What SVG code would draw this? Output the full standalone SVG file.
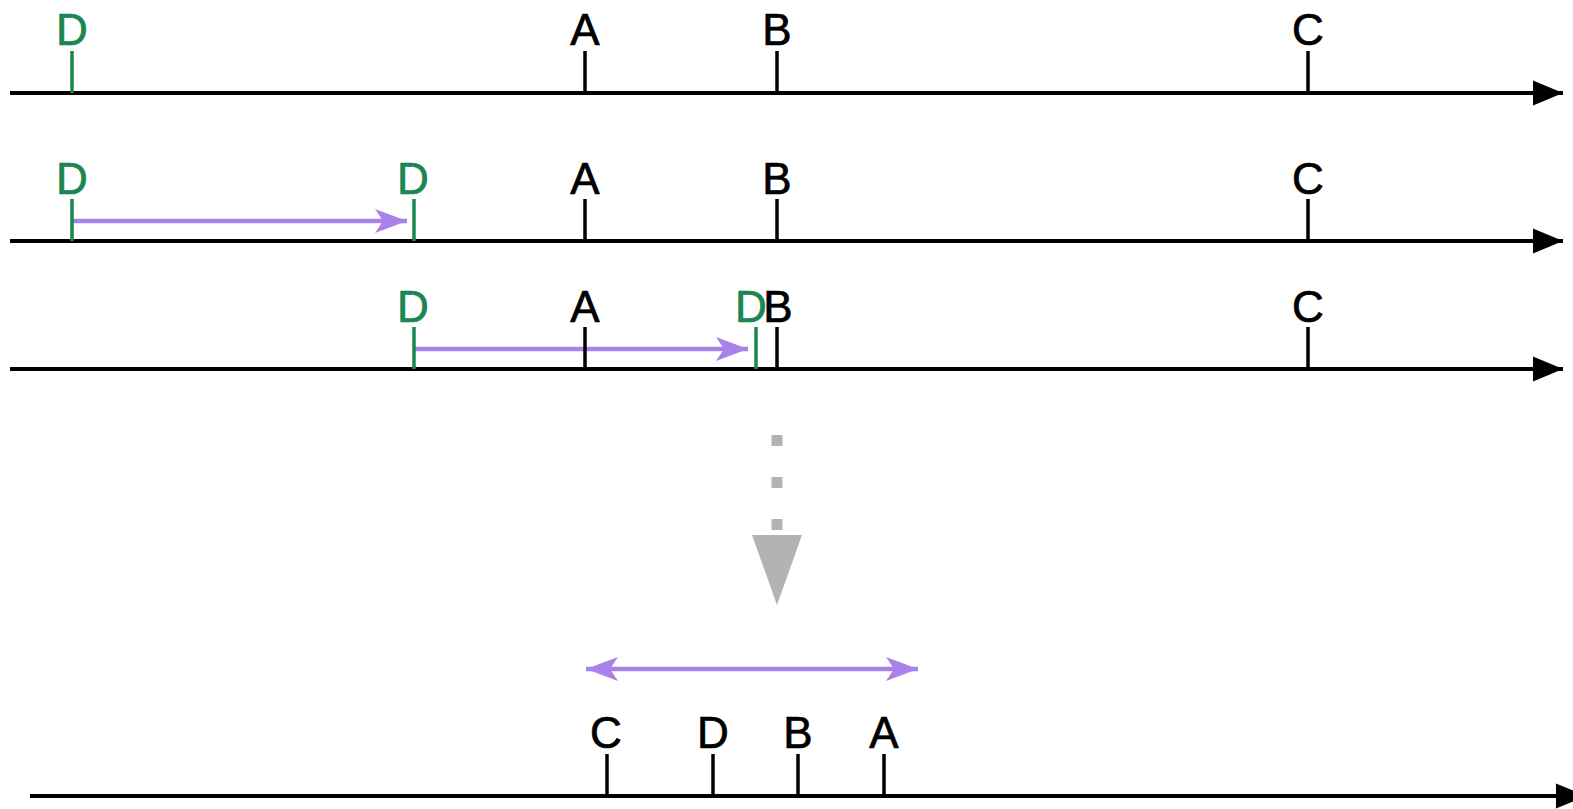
<svg xmlns="http://www.w3.org/2000/svg" width="1573" height="809" viewBox="0 0 1573 809">
  <style>
    .axis { stroke: #000; stroke-width: 4; fill: none; }
    .tick { stroke: #000; stroke-width: 3.5; }
    .tick.g { stroke: #1B8650; }
    .lbl { font-family: "Liberation Sans", Arial, Helvetica, sans-serif; font-size: 44px; fill: #000; stroke: #000; stroke-width: 0.7; text-anchor: middle; }
    .lbl.g { fill: #1B8650; stroke: #1B8650; }
    .move { stroke: #A882E8; stroke-width: 4.5; fill: none; }
    .step { stroke: #B3B3B3; stroke-width: 11; stroke-dasharray: 11 31; fill: none; }
  </style>
  <defs>
    <marker id="axisHead" markerUnits="userSpaceOnUse" markerWidth="32" markerHeight="27" viewBox="0 0 32 27" refX="31" refY="13.5" orient="auto">
      <path d="M1,1 L31,13.5 L1,26 Z" fill="#000"/>
    </marker>
    <marker id="moveHead" markerUnits="userSpaceOnUse" markerWidth="36" markerHeight="28" viewBox="0 0 36 28" refX="34" refY="14" orient="auto-start-reverse">
      <path d="M2,2 L34,14 L2,26 L10,14 Z" fill="#A882E8"/>
    </marker>
  </defs>

  <!-- axes and arrows -->
  <g id="connectors">
    <line class="axis" x1="10" y1="93" x2="1563" y2="93" marker-end="url(#axisHead)"/>
    <line class="axis" x1="10" y1="241" x2="1563" y2="241" marker-end="url(#axisHead)"/>
    <line class="axis" x1="10" y1="369" x2="1563" y2="369" marker-end="url(#axisHead)"/>
    <line class="axis" x1="30" y1="796" x2="1586" y2="796" marker-end="url(#axisHead)"/>

    <line class="move" x1="72" y1="221" x2="407" y2="221" marker-end="url(#moveHead)"/>
    <line class="move" x1="414" y1="349" x2="748" y2="349" marker-end="url(#moveHead)"/>
    <line class="move" x1="586" y1="669" x2="918" y2="669" marker-start="url(#moveHead)" marker-end="url(#moveHead)"/>

    <line class="step" x1="777" y1="435" x2="777" y2="535"/>
    <polygon points="752,535 802,535 777,605" fill="#B3B3B3"/>
  </g>

  <!-- row 1 -->
  <g id="r1-D"><line class="tick g" x1="72" y1="51" x2="72" y2="93"/><text class="lbl g" x="72" y="45">D</text></g>
  <g id="r1-A"><line class="tick" x1="585" y1="51" x2="585" y2="93"/><text class="lbl" x="585" y="45">A</text></g>
  <g id="r1-B"><line class="tick" x1="777" y1="51" x2="777" y2="93"/><text class="lbl" x="777" y="45">B</text></g>
  <g id="r1-C"><line class="tick" x1="1308" y1="51" x2="1308" y2="93"/><text class="lbl" x="1308" y="45">C</text></g>

  <!-- row 2 -->
  <g id="r2-D0"><line class="tick g" x1="72" y1="199" x2="72" y2="241"/><text class="lbl g" x="72" y="194">D</text></g>
  <g id="r2-D1"><line class="tick g" x1="414" y1="199" x2="414" y2="241"/><text class="lbl g" x="413" y="194">D</text></g>
  <g id="r2-A"><line class="tick" x1="585" y1="199" x2="585" y2="241"/><text class="lbl" x="585" y="194">A</text></g>
  <g id="r2-B"><line class="tick" x1="777" y1="199" x2="777" y2="241"/><text class="lbl" x="777" y="194">B</text></g>
  <g id="r2-C"><line class="tick" x1="1308" y1="199" x2="1308" y2="241"/><text class="lbl" x="1308" y="194">C</text></g>

  <!-- row 3 -->
  <g id="r3-D1"><line class="tick g" x1="414" y1="327" x2="414" y2="369"/><text class="lbl g" x="413" y="322">D</text></g>
  <g id="r3-A"><line class="tick" x1="585" y1="327" x2="585" y2="369"/><text class="lbl" x="585" y="322">A</text></g>
  <g id="r3-B"><line class="tick" x1="777" y1="327" x2="777" y2="369"/><text class="lbl" x="778" y="322">B</text></g>
  <g id="r3-D2"><line class="tick g" x1="756" y1="327" x2="756" y2="369"/><text class="lbl g" x="751" y="322">D</text></g>
  <g id="r3-C"><line class="tick" x1="1308" y1="327" x2="1308" y2="369"/><text class="lbl" x="1308" y="322">C</text></g>

  <!-- result -->
  <g id="r4-C"><line class="tick" x1="607" y1="754" x2="607" y2="796"/><text class="lbl" x="606" y="748">C</text></g>
  <g id="r4-D"><line class="tick" x1="713" y1="754" x2="713" y2="796"/><text class="lbl" x="713" y="748">D</text></g>
  <g id="r4-B"><line class="tick" x1="798" y1="754" x2="798" y2="796"/><text class="lbl" x="798" y="748">B</text></g>
  <g id="r4-A"><line class="tick" x1="884" y1="754" x2="884" y2="796"/><text class="lbl" x="884" y="748">A</text></g>
</svg>
